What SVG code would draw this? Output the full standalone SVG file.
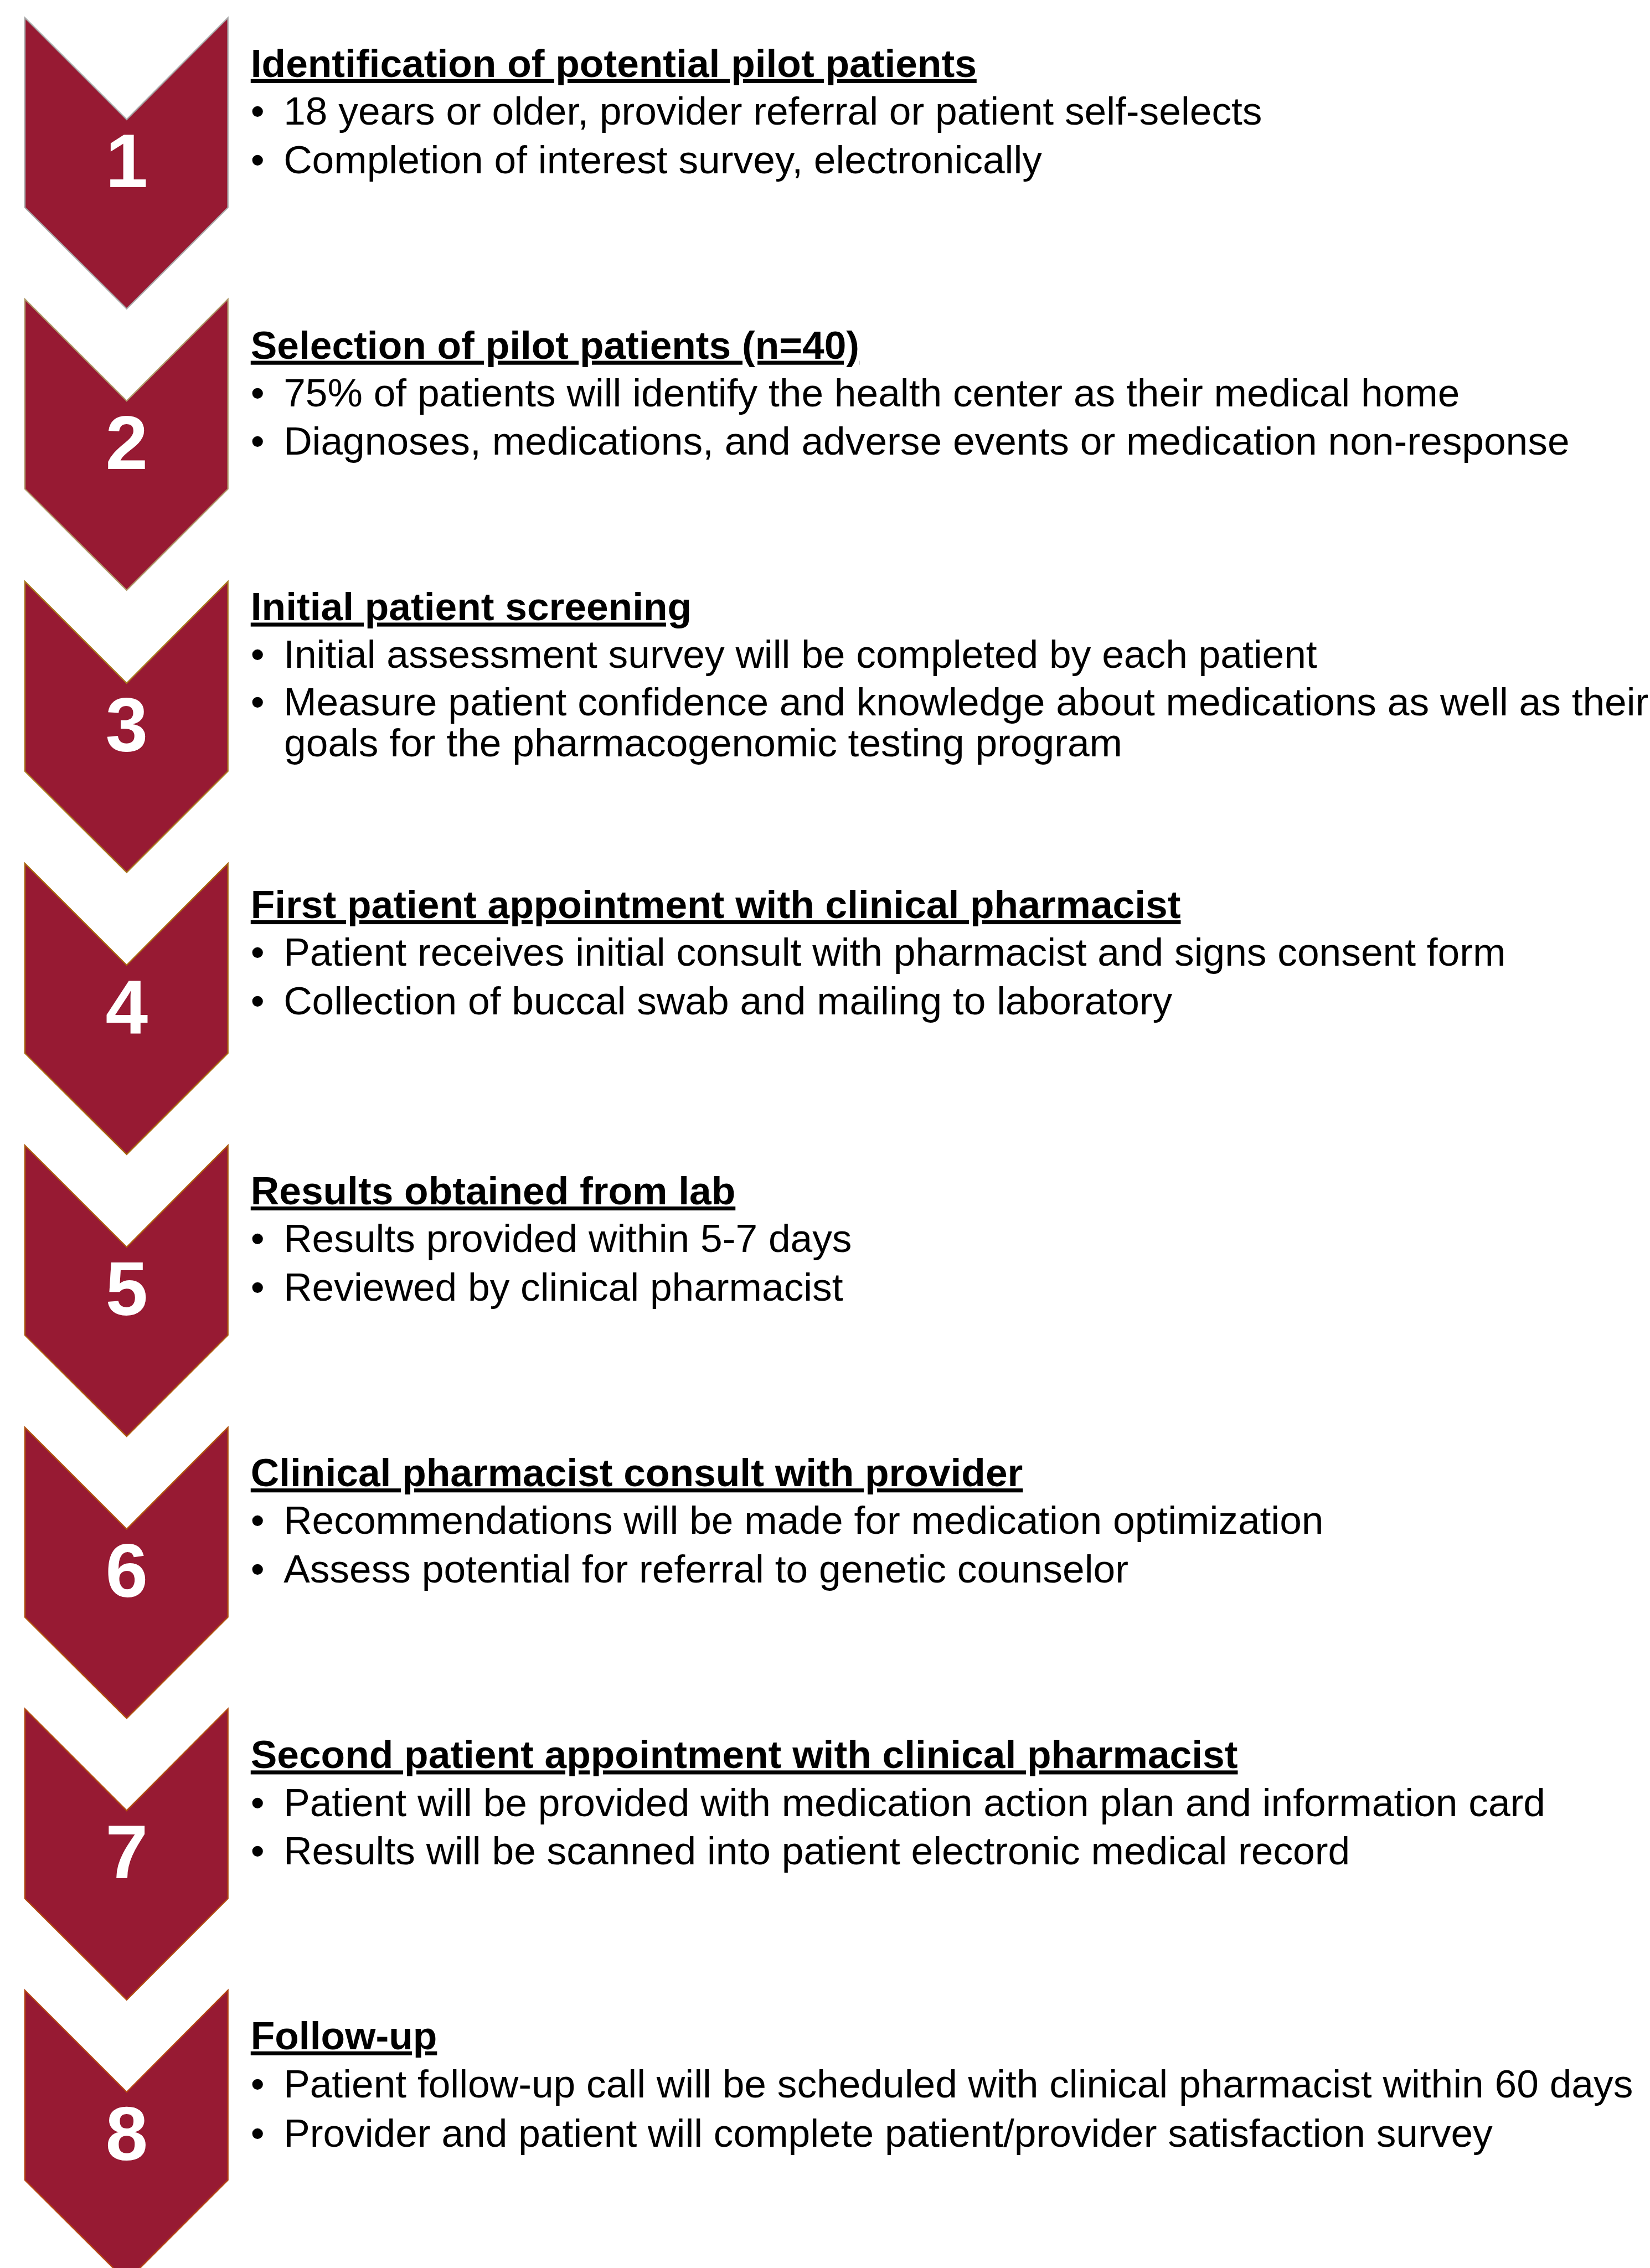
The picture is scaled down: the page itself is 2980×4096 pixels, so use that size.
<svg xmlns="http://www.w3.org/2000/svg" width="2980" height="4096" viewBox="0 0 2980 4096">
  <style>
    .chev { fill: #971A33; stroke-width: 2.5; stroke-linejoin: miter; }
    .num { font-family: "Liberation Sans", Arial, sans-serif; font-weight: bold; font-size: 144px; fill: #FFFFFF; text-anchor: middle; }
    .title { font-family: "Liberation Sans", Arial, sans-serif; font-weight: bold; font-size: 74.5px; fill: #000000; text-decoration: underline; }
    .item { font-family: "Liberation Sans", Arial, sans-serif; font-size: 74.5px; fill: #000000; }
  </style>
  <rect x="0" y="0" width="2980" height="4096" fill="#FFFFFF"/>
  <g transform="scale(0.95725)">
    <g id="step1">
      <polygon class="chev" stroke="#A6A6A6" points="47,33.5 239,225.5 430,33.5 430,391.5 239,582.5 47,391.5"/>
      <text class="num" x="239" y="353.5">1</text>
      <text class="title" x="473" y="145">Identification of potential pilot patients</text>
      <text class="item" y="235"><tspan x="473">•</tspan><tspan x="535">18 years or older, provider referral or patient self-selects</tspan></text>
      <text class="item" y="326.5"><tspan x="473">•</tspan><tspan x="535">Completion of interest survey, electronically</tspan></text>
    </g>
    <g id="step2">
      <polygon class="chev" stroke="#AE9868" points="47,564.5 239,756.5 430,564.5 430,922.5 239,1113.5 47,922.5"/>
      <text class="num" x="239" y="884.5">2</text>
      <text class="title" x="473" y="676.5">Selection of pilot patients (n=40)</text>
      <text class="item" y="766.5"><tspan x="473">•</tspan><tspan x="535">75% of patients will identify the health center as their medical home</tspan></text>
      <text class="item" y="858"><tspan x="473">•</tspan><tspan x="535">Diagnoses, medications, and adverse events or medication non-response</tspan></text>
    </g>
    <g id="step3">
      <polygon class="chev" stroke="#A8781E" points="47,1097 239,1289 430,1097 430,1455 239,1646 47,1455"/>
      <text class="num" x="239" y="1417">3</text>
      <text class="title" x="473" y="1170.5">Initial patient screening</text>
      <text class="item" y="1260"><tspan x="473">•</tspan><tspan x="535">Initial assessment survey will be completed by each patient</tspan></text>
      <text class="item" y="1350"><tspan x="473">•</tspan><tspan x="535">Measure patient confidence and knowledge about medications as well as their</tspan></text>
      <text class="item" x="536" y="1427">goals for the pharmacogenomic testing program</text>
    </g>
    <g id="step4">
      <polygon class="chev" stroke="#A8660E" points="47,1629 239,1821 430,1629 430,1987 239,2178 47,1987"/>
      <text class="num" x="239" y="1949">4</text>
      <text class="title" x="473" y="1732">First patient appointment with clinical pharmacist</text>
      <text class="item" y="1822"><tspan x="473">•</tspan><tspan x="535">Patient receives initial consult with pharmacist and signs consent form</tspan></text>
      <text class="item" y="1913.5"><tspan x="473">•</tspan><tspan x="535">Collection of buccal swab and mailing to laboratory</tspan></text>
    </g>
    <g id="step5">
      <polygon class="chev" stroke="#AC5A0E" points="47,2161 239,2353 430,2161 430,2519 239,2710 47,2519"/>
      <text class="num" x="239" y="2481">5</text>
      <text class="title" x="473" y="2272">Results obtained from lab</text>
      <text class="item" y="2362"><tspan x="473">•</tspan><tspan x="535">Results provided within 5-7 days</tspan></text>
      <text class="item" y="2453.5"><tspan x="473">•</tspan><tspan x="535">Reviewed by clinical pharmacist</tspan></text>
    </g>
    <g id="step6">
      <polygon class="chev" stroke="#B0520F" points="47,2693 239,2885 430,2693 430,3051 239,3242 47,3051"/>
      <text class="num" x="239" y="3013">6</text>
      <text class="title" x="473" y="2804">Clinical pharmacist consult with provider</text>
      <text class="item" y="2894"><tspan x="473">•</tspan><tspan x="535">Recommendations will be made for medication optimization</tspan></text>
      <text class="item" y="2985.5"><tspan x="473">•</tspan><tspan x="535">Assess potential for referral to genetic counselor</tspan></text>
    </g>
    <g id="step7">
      <polygon class="chev" stroke="#B04A10" points="47,3224 239,3416 430,3224 430,3582 239,3773 47,3582"/>
      <text class="num" x="239" y="3544">7</text>
      <text class="title" x="473" y="3336">Second patient appointment with clinical pharmacist</text>
      <text class="item" y="3426"><tspan x="473">•</tspan><tspan x="535">Patient will be provided with medication action plan and information card</tspan></text>
      <text class="item" y="3517.5"><tspan x="473">•</tspan><tspan x="535">Results will be scanned into patient electronic medical record</tspan></text>
    </g>
    <g id="step8">
      <polygon class="chev" stroke="#B44412" points="47,3755 239,3947 430,3755 430,4113 239,4304 47,4113"/>
      <text class="num" x="239" y="4075">8</text>
      <text class="title" x="473" y="3866">Follow-up</text>
      <text class="item" y="3957"><tspan x="473">•</tspan><tspan x="535">Patient follow-up call will be scheduled with clinical pharmacist within 60 days</tspan></text>
      <text class="item" y="4050"><tspan x="473">•</tspan><tspan x="535">Provider and patient will complete patient/provider satisfaction survey</tspan></text>
    </g>
  </g>
</svg>
